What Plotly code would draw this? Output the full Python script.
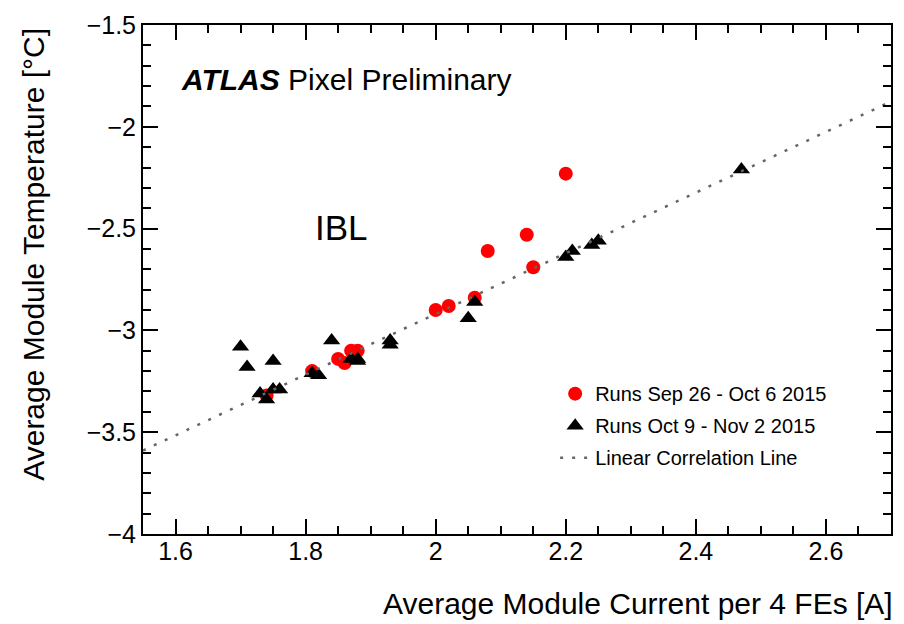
import plotly.graph_objects as go

# Runs Sep 26 - Oct 6 2015
run1_current = [1.74, 1.81, 1.85, 1.86, 1.87, 1.88, 2.00, 2.02, 2.06, 2.08, 2.14, 2.15, 2.20]
run1_temp = [-3.32, -3.20, -3.14, -3.16, -3.10, -3.10, -2.90, -2.88, -2.84, -2.61, -2.53, -2.69, -2.23]

# Runs Oct 9 - Nov 2 2015
run2_current = [1.70, 1.71, 1.73, 1.74, 1.75, 1.75, 1.76, 1.81, 1.82, 1.84, 1.87, 1.88, 1.88,
                1.93, 1.93, 2.05, 2.06, 2.20, 2.21, 2.24, 2.25, 2.47]
run2_temp = [-3.08, -3.18, -3.31, -3.34, -3.15, -3.29, -3.29, -3.21, -3.22, -3.05, -3.14, -3.14, -3.15,
             -3.05, -3.07, -2.94, -2.86, -2.64, -2.61, -2.58, -2.56, -2.21]

# Linear correlation line (end points)
line_current = [1.55, 2.70]
line_temp = [-3.59, -1.876]

FONT = "Liberation Sans, Arial, Helvetica, sans-serif"

fig = go.Figure()
fig.add_trace(go.Scatter(
    x=run1_current, y=run1_temp, mode="markers", name="Runs Sep 26 - Oct 6 2015",
    legendgroup="a",
    marker=dict(symbol="circle", size=14, color="#ff0000", line=dict(width=0))))
fig.add_trace(go.Scatter(
    x=run2_current, y=run2_temp, mode="markers", name="Runs Oct 9 - Nov 2 2015",
    legendgroup="b",
    marker=dict(symbol="triangle-up", size=15, color="black", line=dict(width=0))))
fig.add_trace(go.Scatter(
    x=line_current, y=line_temp, mode="lines", name="Linear Correlation Line",
    legendgroup="c",
    line=dict(color="#666666", width=2.5, dash="3px,9px")))

axis_common = dict(
    showgrid=False, zeroline=False, showline=True, linecolor="black", linewidth=2,
    mirror="allticks", ticks="inside", tickcolor="black", tickwidth=1.5,
    tickfont=dict(family=FONT, size=25, color="black"),
)

fig.update_xaxes(range=[1.55, 2.70], dtick=0.2, tick0=1.6, ticklen=15, ticklabelstandoff=-6,
                 minor=dict(dtick=0.05, ticklen=8, ticks="inside", tickcolor="black", tickwidth=1.5),
                 **axis_common)
fig.update_yaxes(range=[-4, -1.5], dtick=0.5, tick0=-4, ticklen=15,
                 minor=dict(dtick=0.1, ticklen=8, ticks="inside", tickcolor="black", tickwidth=1.5),
                 **axis_common)

fig.update_layout(
    width=904, height=624,
    margin=dict(l=143, r=11, t=20, b=90),
    plot_bgcolor="white", paper_bgcolor="white",
    font=dict(family=FONT, color="black"),
    legend=dict(x=0.551, y=0.314, xanchor="left", yanchor="top",
                font=dict(family=FONT, size=20, color="black"),
                bgcolor="rgba(0,0,0,0)", traceorder="grouped", tracegroupgap=3),
    annotations=[
        dict(text="<b><i>ATLAS</i></b> Pixel Preliminary", xref="paper", yref="paper",
             x=0.048, y=0.893, xanchor="left", yanchor="middle", showarrow=False,
             font=dict(family=FONT, size=30, color="black")),
        dict(text="IBL", xref="paper", yref="paper",
             x=0.227, y=0.603, xanchor="left", yanchor="middle", showarrow=False,
             font=dict(family=FONT, size=35, color="black")),
        dict(text="Average Module Temperature [°C]", xref="paper", yref="paper",
             x=-0.1467, y=1, xanchor="center", yanchor="top", yshift=-1, textangle=-90,
             showarrow=False, font=dict(family=FONT, size=30, color="black")),
        dict(text="Average Module Current per 4 FEs [A]", xref="paper", yref="paper",
             x=1, y=-0.136, xanchor="right", yanchor="middle", xshift=4, showarrow=False,
             font=dict(family=FONT, size=30, color="black")),
    ],
)

fig.write_html("out.html")
